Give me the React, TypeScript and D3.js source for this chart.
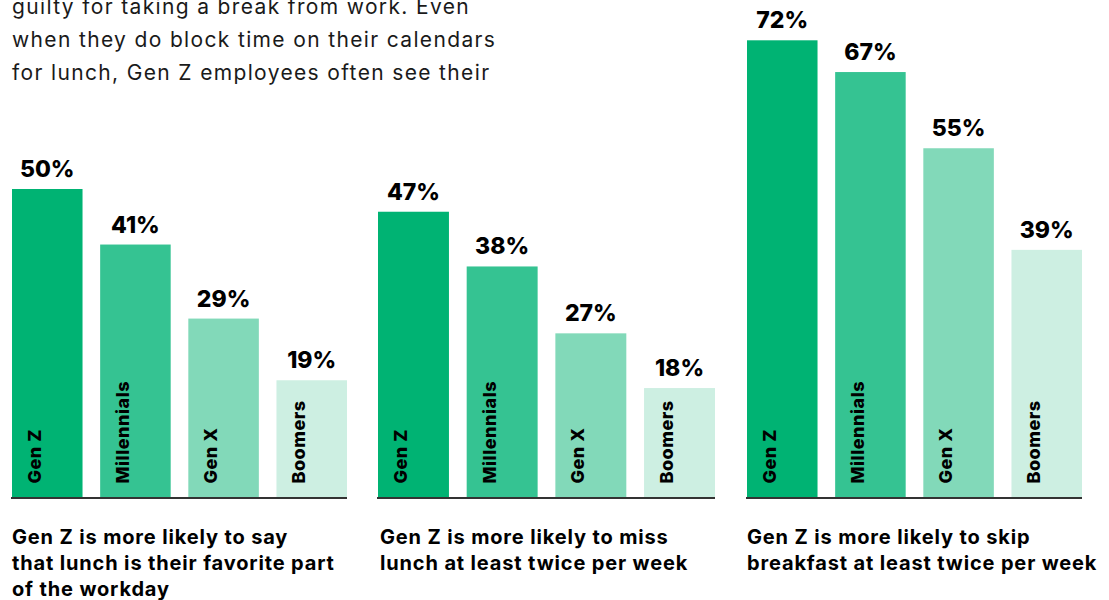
import React from "react";
import * as d3 from "d3";

const generations = ["Gen Z", "Millennials", "Gen X", "Boomers"];
const favoriteLunch = [50, 41, 29, 19];
const missLunch = [47, 38, 27, 18];
const skipBreakfast = [72, 67, 55, 39];
const captions = [
  ["Gen Z is more likely to say", "that lunch is their favorite part", "of the workday"],
  ["Gen Z is more likely to miss", "lunch at least twice per week"],
  ["Gen Z is more likely to skip", "breakfast at least twice per week"],
];
const introLines = [
  "guilty for taking a break from work. Even",
  "when they do block time on their calendars",
  "for lunch, Gen Z employees often see their",
];

const colors = ["#00b373", "#35c392", "#82d9b9", "#cdefe2"];
const FONT = "Inter, 'Noto Sans', sans-serif";

const W = 1109;
const H = 600;
const baseline = 497.5;

const panels = [
  { values: favoriteLunch, x0: 12, x1: 347, pxPer100: 617 },
  { values: missLunch, x0: 378, x1: 715, pxPer100: 608 },
  { values: skipBreakfast, x0: 747, x1: 1082, pxPer100: 635 },
];

function Panel({ idx }: { idx: number }) {
  const p = panels[idx];
  const x = d3.scaleBand<string>().domain(generations).range([p.x0, p.x1]).paddingInner(0.2).paddingOuter(0);
  const y = d3.scaleLinear().domain([0, 100]).range([baseline, baseline - p.pxPer100]);
  const color = d3.scaleOrdinal<string, string>().domain(generations).range(colors);
  return (
    <g>
      {generations.map((g, i) => {
        const v = p.values[i];
        const bx = x(g)!;
        const bw = x.bandwidth();
        return (
          <g key={g}>
            <rect x={bx} y={y(v)} width={bw} height={baseline - y(v)} fill={color(g)} />
            <text
              x={bx + bw / 2}
              y={y(v) - 12}
              textAnchor="middle"
              fontFamily={FONT}
              fontWeight={800}
              fontSize={23}
              fill="#000"
            >
              {v}%
            </text>
            <text
              transform={`translate(${bx + 29},${baseline - 14}) rotate(-90)`}
              fontFamily={FONT}
              fontWeight={800}
              fontSize={18}
              letterSpacing={0.5}
              fill="#000"
            >
              {g}
            </text>
          </g>
        );
      })}
      <line x1={p.x0 - 1} x2={p.x1} y1={baseline + 0.5} y2={baseline + 0.5} stroke="#333" strokeWidth={2} />
      {captions[idx].map((line, j) => (
        <text
          key={j}
          x={p.x0 + (idx === 1 ? 2 : 0)}
          y={544 + j * 26}
          fontFamily={FONT}
          fontWeight={700}
          fontSize={20}
          letterSpacing={0.85}
          fill="#000"
        >
          {line}
        </text>
      ))}
    </g>
  );
}

export default function App() {
  return (
    <div style={{ position: "absolute", left: 0, top: 0 }}>
      <svg width={W} height={H} style={{ display: "block", background: "#fff" }}>
        {introLines.map((l, i) => (
          <text key={i} x={12} y={14 + i * 33} fontFamily={FONT} fontSize={21} letterSpacing={1.35} fill="#1a1a1a">
            {l}
          </text>
        ))}
        {panels.map((_, i) => (
          <Panel key={i} idx={i} />
        ))}
      </svg>
    </div>
  );
}
